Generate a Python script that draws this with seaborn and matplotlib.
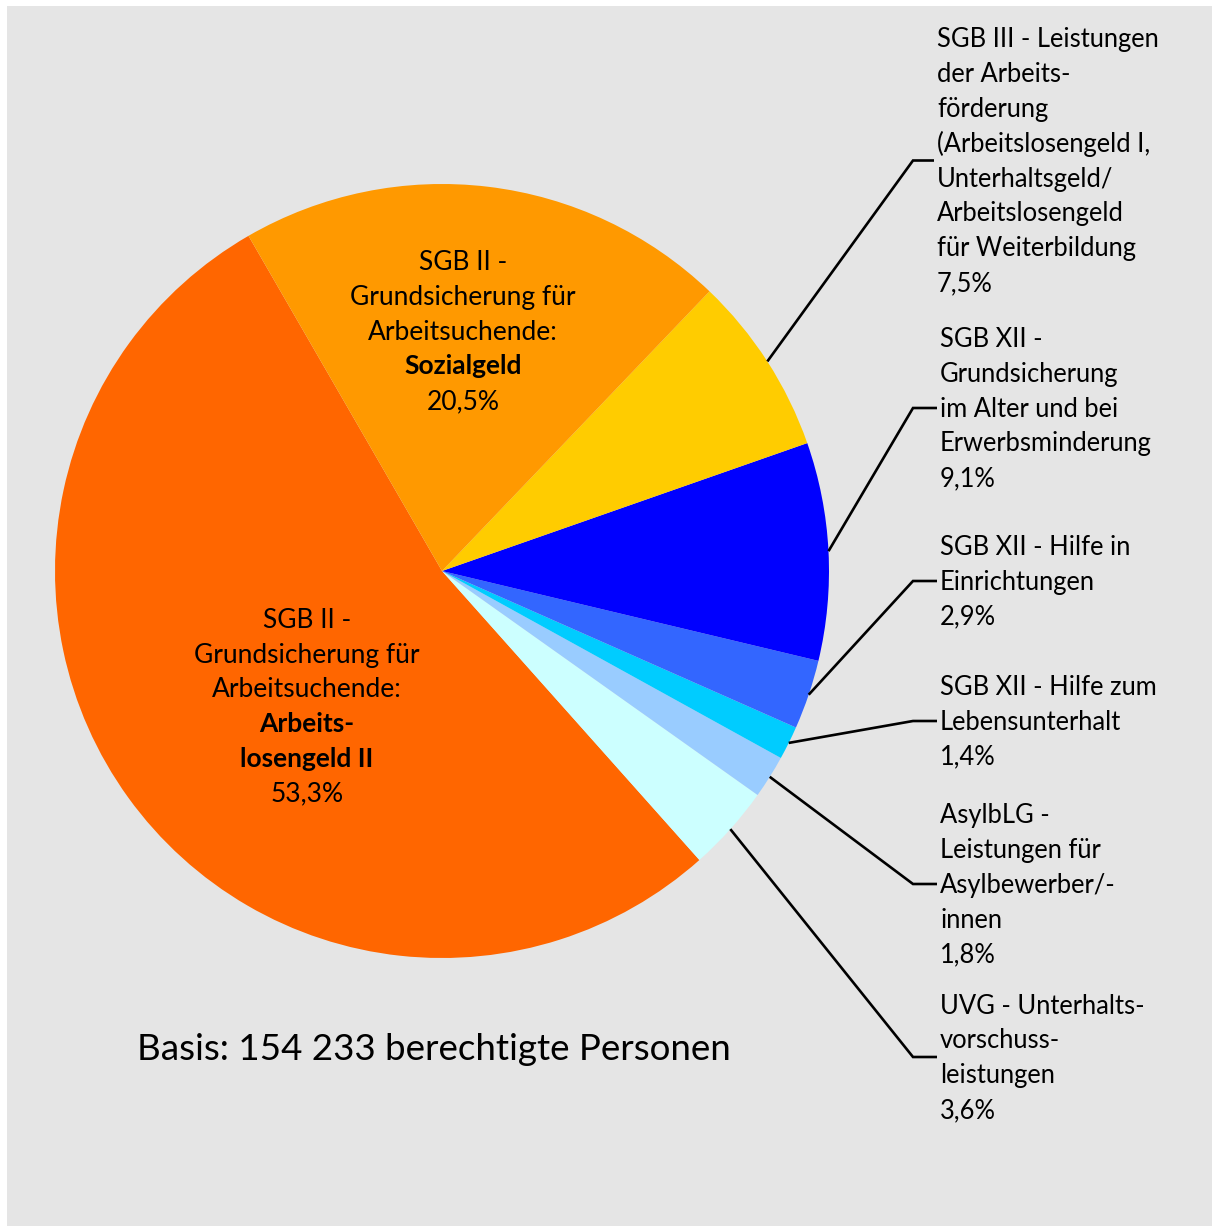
import matplotlib
matplotlib.use("Agg")
import matplotlib.pyplot as plt
import seaborn as sns
from matplotlib.patches import Rectangle
import numpy as np

# Anteile in %, gegen den Uhrzeigersinn ab 120 Grad
categories = ["Arbeitslosengeld II", "UVG", "AsylbLG", "SGB XII Lebensunterhalt",
              "SGB XII Einrichtungen", "SGB XII Grundsicherung", "SGB III", "Sozialgeld"]
shares = [53.3, 3.6, 1.8, 1.4, 2.9, 9.1, 7.5, 20.5]
colors = ["#ff6600", "#ccffff", "#99ccff", "#00ccff", "#3366ff", "#0000ff", "#ffcc00", "#ff9900"]

# Beschriftung: (Zeile, fett)
label_lines = {
    "Arbeitslosengeld II": [("SGB II -", False), ("Grundsicherung für", False),
                            ("Arbeitsuchende:", False), ("Arbeits-", True), ("losengeld II", True)],
    "Sozialgeld": [("SGB II -", False), ("Grundsicherung für", False),
                   ("Arbeitsuchende:", False), ("Sozialgeld", True)],
    "SGB III": [("SGB III - Leistungen", False), ("der Arbeits-", False), ("förderung", False),
                ("(Arbeitslosengeld I,", False), ("Unterhaltsgeld/", False),
                ("Arbeitslosengeld", False), ("für Weiterbildung", False)],
    "SGB XII Grundsicherung": [("SGB XII -", False), ("Grundsicherung", False),
                               ("im Alter und bei", False), ("Erwerbsminderung", False)],
    "SGB XII Einrichtungen": [("SGB XII - Hilfe in", False), ("Einrichtungen", False)],
    "SGB XII Lebensunterhalt": [("SGB XII - Hilfe zum", False), ("Lebensunterhalt", False)],
    "AsylbLG": [("AsylbLG -", False), ("Leistungen für", False),
                ("Asylbewerber/-", False), ("innen", False)],
    "UVG": [("UVG - Unterhalts-", False), ("vorschuss-", False), ("leistungen", False)],
}
basis_text = "Basis: 154 233 berechtigte Personen"

W, H = 1212, 1226
sns.set_theme(style="white")
plt.rcParams["font.family"] = ["Lato", "DejaVu Sans"]

fig = plt.figure(figsize=(W / 100, H / 100), dpi=100)
fig.patch.set_facecolor("white")
fig.patches.append(Rectangle((7 / W, 0), 1, 1 - 6 / H, transform=fig.transFigure,
                             facecolor="#e5e5e5", edgecolor="none", zorder=-1))
ax = fig.add_axes([0, 0, 1, 1])
ax.set_facecolor("none")

cx, cy, r = 442, H - 571, 387
wedges, _ = ax.pie(shares, colors=sns.color_palette(colors), startangle=120, counterclock=True,
                   center=(cx, cy), radius=r, wedgeprops=dict(linewidth=0))
ax.set_xlim(0, W)
ax.set_ylim(0, H)
ax.set_aspect("equal")
ax.set_axis_off()

LS = 34.8
FS = 18.4


def pct(v):
    return f"{v:.1f}".replace(".", ",") + "%"


def draw_block(x, yc, lines, ha, size=FS):
    n = len(lines)
    for i, (txt, bold) in enumerate(lines):
        yb = yc + (i - (n - 1) / 2) * LS + 8.7
        ax.text(x, H - yb, txt, ha=ha, va="baseline", fontsize=size,
                fontweight="bold" if bold else "normal", color="black")


# innen liegende Beschriftungen
inside = {"Arbeitslosengeld II": (307, 706), "Sozialgeld": (463, 331)}
# aussen liegende Beschriftungen: Mittelpunkt des Textblocks
outside = {"SGB III": (937, 160.5), "SGB XII Grundsicherung": (940, 408),
           "SGB XII Einrichtungen": (940, 581), "SGB XII Lebensunterhalt": (940, 721),
           "AsylbLG": (940, 884), "UVG": (940, 1057)}

for w, cat, v in zip(wedges, categories, shares):
    lines = label_lines[cat] + [(pct(v), False)]
    if cat in inside:
        x, yc = inside[cat]
        draw_block(x, yc, lines, "center", size=FS + 0.6)
    else:
        x, yc = outside[cat]
        mid = np.deg2rad((w.theta1 + w.theta2) / 2)
        sx, sy = cx + r * np.cos(mid), cy + r * np.sin(mid)
        ex = 913
        ax.plot([sx, ex, x - 3], [sy, H - yc, H - yc], color="black", lw=1.9,
                solid_capstyle="butt", solid_joinstyle="miter")
        draw_block(x, yc, lines, "left")

ax.text(434, H - 1060, basis_text, ha="center", va="baseline", fontsize=26.5, color="black")

fig.savefig("out.png", dpi=100, facecolor=fig.get_facecolor())
